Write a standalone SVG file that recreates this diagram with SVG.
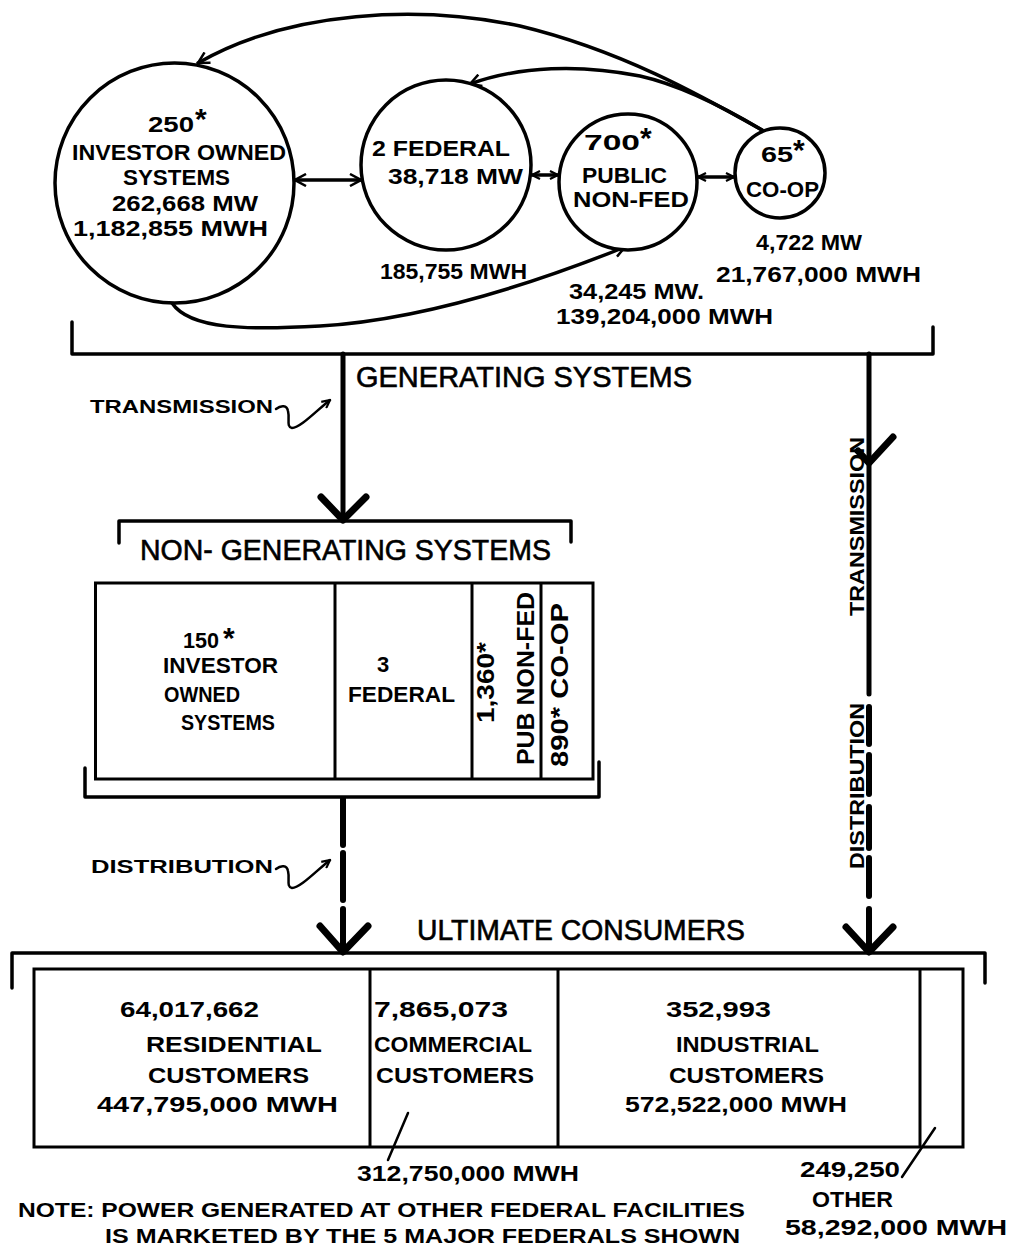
<svg xmlns="http://www.w3.org/2000/svg" width="1009" height="1247" viewBox="0 0 1009 1247">
<style>
.d{font-family:"Liberation Sans",Arial,sans-serif;font-weight:bold;font-size:22px;fill:#000}
.c{font-size:22px}
.s{font-size:18px}
.r{font-size:21px}
.v{font-size:24px}
.n{font-size:21px}
.t{font-family:"Liberation Sans",Arial,sans-serif;font-size:29px;fill:#000;stroke:#000;stroke-width:0.6}
.ast{font-family:"Liberation Sans",Arial,sans-serif;font-weight:bold;font-size:30px;fill:#000}
.ln{stroke:#000;fill:none;stroke-width:3.5;stroke-linecap:round;stroke-linejoin:round}
.bx{stroke:#000;fill:none;stroke-width:3}
.cir{stroke:#000;fill:#fff;stroke-width:3.5}
.hv{stroke:#000;fill:none;stroke-width:5;stroke-linecap:round}
.dash{stroke:#000;fill:none;stroke-width:6;stroke-linecap:round}
.chev{stroke:#000;fill:none;stroke-width:7;stroke-linecap:round;stroke-linejoin:round}
.thin{stroke:#000;fill:none;stroke-width:2.5;stroke-linecap:round}
</style>
<defs>
<marker id="ah" viewBox="0 0 14 14" refX="13" refY="7" markerWidth="14" markerHeight="14" markerUnits="userSpaceOnUse" orient="auto-start-reverse">
<path d="M2,1 L13,7 L2,13" fill="none" stroke="#000" stroke-width="2.5"/>
</marker>
<marker id="ahs" viewBox="0 0 10 10" refX="9" refY="5" markerWidth="10" markerHeight="10" markerUnits="userSpaceOnUse" orient="auto-start-reverse">
<path d="M1,1 L9,5 L1,9" fill="none" stroke="#000" stroke-width="2.2"/>
</marker>
</defs>
<rect width="1009" height="1247" fill="#fff"/>

<g id="connectors">
<path class="ln" d="M762,130 C700,95 620,50 520,26 C420,5 290,10 198,63" marker-end="url(#ah)"/>
<path class="ln" d="M762,130 C720,105 680,85 640,76 C580,64 520,66 470,84" marker-end="url(#ah)"/>
<path class="ln" d="M172,303 C190,330 250,330 320,326 C420,320 530,285 625,247" marker-end="url(#ah)"/>
<line class="ln" x1="295" y1="180" x2="361" y2="180" marker-start="url(#ah)" marker-end="url(#ah)"/>
<line class="ln" x1="532" y1="175" x2="558" y2="175" marker-start="url(#ahs)" marker-end="url(#ahs)"/>
<line class="ln" x1="698" y1="177" x2="734" y2="177" marker-start="url(#ahs)" marker-end="url(#ahs)"/>
<path class="ln" d="M72,322 L72,354 L933,354 L933,327"/>
<line class="hv" x1="343" y1="354" x2="343" y2="516"/>
<path class="chev" d="M321,497 L343,520 L366,497"/>
<line class="hv" x1="869" y1="354" x2="869" y2="694"/>
<path class="chev" d="M858,451 L869,463 L893,437"/>
<line class="dash" x1="869" y1="707" x2="869" y2="744"/>
<line class="dash" x1="869" y1="755" x2="869" y2="794"/>
<line class="dash" x1="869" y1="807" x2="869" y2="848"/>
<line class="dash" x1="869" y1="858" x2="869" y2="896"/>
<line class="dash" x1="869" y1="909" x2="869" y2="948"/>
<line class="dash" x1="343" y1="799" x2="343" y2="845"/>
<line class="dash" x1="343" y1="853" x2="343" y2="900"/>
<line class="dash" x1="343" y1="909" x2="343" y2="948"/>
<path class="chev" d="M846,927 L869,952 L893,927"/>
<path class="chev" d="M320,926 L343,952 L368,926"/>
<path class="thin" d="M276,409 C281,405 287,405 288,411 C290,419 286,427 292,428 C300,428 315,412 330,400" marker-end="url(#ahs)"/>
<path class="thin" d="M276,869 C281,865 287,865 288,871 C290,879 286,887 292,888 C300,888 315,872 330,860" marker-end="url(#ahs)"/>
<line class="thin" x1="388" y1="1160" x2="408" y2="1113"/>
<line class="thin" x1="902" y1="1177" x2="935" y2="1128"/>
</g>

<g id="investor-owned">
<ellipse class="cir" cx="174.5" cy="183" rx="119.5" ry="120"/>
<text class="d c" x="148" y="132" textLength="46" lengthAdjust="spacingAndGlyphs">250</text>
<text class="ast" x="195" y="129">*</text>
<text class="d c" x="72" y="160" textLength="214" lengthAdjust="spacingAndGlyphs">INVESTOR OWNED</text>
<text class="d c" x="123" y="185" textLength="107" lengthAdjust="spacingAndGlyphs">SYSTEMS</text>
<text class="d c" x="112" y="211" textLength="146" lengthAdjust="spacingAndGlyphs">262,668 MW</text>
<text class="d c" x="73" y="236" textLength="195" lengthAdjust="spacingAndGlyphs">1,182,855 MWH</text>
</g>

<g id="federal">
<circle class="cir" cx="446" cy="165" r="85"/>
<text class="d c" x="372" y="156" textLength="138" lengthAdjust="spacingAndGlyphs">2 FEDERAL</text>
<text class="d c" x="388" y="184" textLength="135" lengthAdjust="spacingAndGlyphs">38,718 MW</text>
<text class="d c" x="380" y="279" textLength="147" lengthAdjust="spacingAndGlyphs">185,755 MWH</text>
</g>

<g id="public-non-fed">
<ellipse class="cir" cx="628" cy="182" rx="69" ry="68"/>
<text class="d c" x="584" y="150" textLength="56" lengthAdjust="spacingAndGlyphs">700</text>
<text class="ast" x="640" y="148">*</text>
<text class="d c" x="582" y="183" textLength="85" lengthAdjust="spacingAndGlyphs">PUBLIC</text>
<text class="d c" x="573" y="207" textLength="116" lengthAdjust="spacingAndGlyphs">NON-FED</text>
<text class="d c" x="569" y="299" textLength="135" lengthAdjust="spacingAndGlyphs">34,245 MW.</text>
<text class="d c" x="556" y="324" textLength="217" lengthAdjust="spacingAndGlyphs">139,204,000 MWH</text>
</g>

<g id="co-op">
<circle class="cir" cx="780" cy="173" r="45"/>
<text class="d c" x="761" y="162" textLength="32" lengthAdjust="spacingAndGlyphs">65</text>
<text class="ast" x="793" y="160">*</text>
<text class="d c" x="746" y="197" textLength="73" lengthAdjust="spacingAndGlyphs">CO-OP</text>
<text class="d c" x="756" y="250" textLength="106" lengthAdjust="spacingAndGlyphs">4,722 MW</text>
<text class="d c" x="716" y="282" textLength="205" lengthAdjust="spacingAndGlyphs">21,767,000 MWH</text>
</g>

<g id="generating-systems">
<text class="t" x="356" y="387" textLength="336" lengthAdjust="spacingAndGlyphs">GENERATING SYSTEMS</text>
<text class="d s" x="90" y="413" textLength="183" lengthAdjust="spacingAndGlyphs">TRANSMISSION</text>
<text class="d r" transform="translate(864,616) rotate(-90)" textLength="179" lengthAdjust="spacingAndGlyphs">TRANSMISSION</text>
<text class="d r" transform="translate(864,869) rotate(-90)" textLength="166" lengthAdjust="spacingAndGlyphs">DISTRIBUTION</text>
</g>

<g id="non-generating-systems">
<path class="ln" d="M119,543 L119,521 L571,521 L571,542"/>
<text class="t" x="140" y="560" textLength="411" lengthAdjust="spacingAndGlyphs">NON- GENERATING SYSTEMS</text>
<rect class="bx" x="95.5" y="583" width="497.5" height="196"/>
<line class="bx" x1="335" y1="583" x2="335" y2="779"/>
<line class="bx" x1="472" y1="583" x2="472" y2="779"/>
<line class="bx" x1="541" y1="583" x2="541" y2="779"/>
<path class="ln" d="M85,768 L85,797 L599,797 L599,762"/>
<text class="d" x="183" y="648" textLength="36" lengthAdjust="spacingAndGlyphs">150</text>
<text class="ast" x="223" y="648">*</text>
<text class="d" x="163" y="673" textLength="115" lengthAdjust="spacingAndGlyphs">INVESTOR</text>
<text class="d" x="164" y="702" textLength="76" lengthAdjust="spacingAndGlyphs">OWNED</text>
<text class="d" x="181" y="730" textLength="94" lengthAdjust="spacingAndGlyphs">SYSTEMS</text>
<text class="d" x="377" y="672">3</text>
<text class="d" x="348" y="702" textLength="107" lengthAdjust="spacingAndGlyphs">FEDERAL</text>
<text class="d v" transform="translate(494,723) rotate(-90)" textLength="81" lengthAdjust="spacingAndGlyphs">1,360*</text>
<text class="d v" transform="translate(534,765) rotate(-90)" textLength="173" lengthAdjust="spacingAndGlyphs">PUB NON-FED</text>
<text class="d v" transform="translate(568,767) rotate(-90)" textLength="164" lengthAdjust="spacingAndGlyphs">890* CO-OP</text>
<text class="d s" x="91" y="873" textLength="182" lengthAdjust="spacingAndGlyphs">DISTRIBUTION</text>
</g>

<g id="ultimate-consumers">
<path class="ln" d="M12,988 L12,953 L985,953 L985,983"/>
<text class="t" x="417" y="940" textLength="328" lengthAdjust="spacingAndGlyphs">ULTIMATE CONSUMERS</text>
<rect class="bx" x="34" y="969" width="929" height="178"/>
<line class="bx" x1="370" y1="969" x2="370" y2="1147"/>
<line class="bx" x1="558" y1="969" x2="558" y2="1147"/>
<line class="bx" x1="920" y1="969" x2="920" y2="1147"/>
</g>

<g id="residential">
<text class="d" x="120" y="1017" textLength="139" lengthAdjust="spacingAndGlyphs">64,017,662</text>
<text class="d" x="146" y="1052" textLength="176" lengthAdjust="spacingAndGlyphs">RESIDENTIAL</text>
<text class="d" x="148" y="1083" textLength="161" lengthAdjust="spacingAndGlyphs">CUSTOMERS</text>
<text class="d" x="97" y="1112" textLength="241" lengthAdjust="spacingAndGlyphs">447,795,000 MWH</text>
</g>

<g id="commercial">
<text class="d" x="374" y="1017" textLength="134" lengthAdjust="spacingAndGlyphs">7,865,073</text>
<text class="d" x="374" y="1052" textLength="158" lengthAdjust="spacingAndGlyphs">COMMERCIAL</text>
<text class="d" x="376" y="1083" textLength="158" lengthAdjust="spacingAndGlyphs">CUSTOMERS</text>
<text class="d" x="357" y="1181" textLength="222" lengthAdjust="spacingAndGlyphs">312,750,000 MWH</text>
</g>

<g id="industrial">
<text class="d" x="666" y="1017" textLength="105" lengthAdjust="spacingAndGlyphs">352,993</text>
<text class="d" x="676" y="1052" textLength="143" lengthAdjust="spacingAndGlyphs">INDUSTRIAL</text>
<text class="d" x="669" y="1083" textLength="155" lengthAdjust="spacingAndGlyphs">CUSTOMERS</text>
<text class="d" x="625" y="1112" textLength="222" lengthAdjust="spacingAndGlyphs">572,522,000 MWH</text>
</g>

<g id="other">
<text class="d" x="800" y="1177" textLength="100" lengthAdjust="spacingAndGlyphs">249,250</text>
<text class="d" x="812" y="1207" textLength="81" lengthAdjust="spacingAndGlyphs">OTHER</text>
<text class="d" x="785" y="1235" textLength="222" lengthAdjust="spacingAndGlyphs">58,292,000 MWH</text>
</g>

<g id="note">
<text class="d n" x="18" y="1217" textLength="727" lengthAdjust="spacingAndGlyphs">NOTE: POWER GENERATED AT OTHER FEDERAL FACILITIES</text>
<text class="d n" x="105" y="1243" textLength="635" lengthAdjust="spacingAndGlyphs">IS MARKETED BY THE 5 MAJOR FEDERALS SHOWN</text>
</g>
</svg>
